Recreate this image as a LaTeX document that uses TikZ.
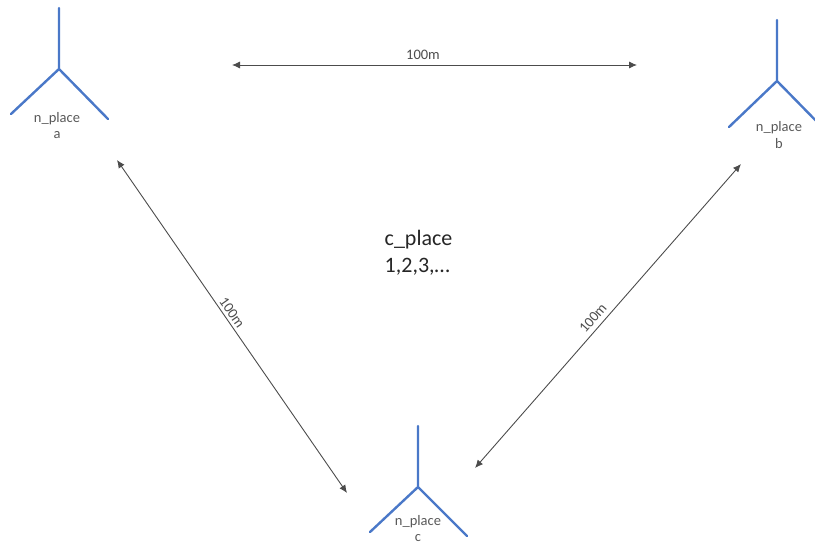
\documentclass[tikz,border=0pt]{standalone}
\usepackage{fontspec}
\setmainfont{Carlito}
\usetikzlibrary{arrows.meta}
\definecolor{antblue}{HTML}{4A78C8}
\tikzset{
  antenna/.style={draw=antblue,line width=2.4pt,line cap=round},
  dimline/.style={draw=black!70,line width=0.9pt,{Latex[length=8pt,width=7pt]}-{Latex[length=8pt,width=7pt]}},
  smalltext/.style={text=black!65,font=\fontsize{14.5}{16}\selectfont,inner sep=0pt,align=center},
  dimtext/.style={text=black!70,font=\fontsize{14.5}{16}\selectfont,inner sep=0pt},
  bigtext/.style={text=black!85,font=\fontsize{22}{27}\selectfont,inner sep=0pt,align=left}
}
\begin{document}
\begin{tikzpicture}[x=1pt,y=-1pt]
\useasboundingbox (0,0) rectangle (815,543);
\clip (0,0) rectangle (815,543);
% antenna a
\coordinate (atop) at (59,8);
\coordinate (aj) at (59,69);
\coordinate (al) at (11,114);
\coordinate (ar) at (108,119);
\draw[antenna] (atop) -- (aj) (al) -- (aj) -- (ar);
\node[smalltext] (alabel) at (57,118.5) {n\_place};
\node[smalltext] (aname) at (57,135) {a};
% antenna b
\coordinate (btop) at (777,20);
\coordinate (bj) at (777,81);
\coordinate (bl) at (729,127);
\coordinate (br) at (826,131);
\draw[antenna] (btop) -- (bj) (bl) -- (bj) -- (br);
\node[smalltext] (blabel) at (779,128) {n\_place};
\node[smalltext] (bname) at (779,144) {b};
% antenna c
\coordinate (ctop) at (418,426);
\coordinate (cj) at (418,487);
\coordinate (cl) at (370,532);
\coordinate (cr) at (467,536);
\draw[antenna] (ctop) -- (cj) (cl) -- (cj) -- (cr);
\node[smalltext] (clabel) at (418,521.5) {n\_place};
\node[smalltext] (cname) at (418,538.5) {c};
% distances
\coordinate (d1a) at (232,65);
\coordinate (d1b) at (637,65);
\coordinate (d2a) at (117,160);
\coordinate (d2b) at (347,493);
\coordinate (d3a) at (741,164);
\coordinate (d3b) at (475,468);
\draw[dimline] (d1a) -- (d1b);
\draw[dimline] (d2a) -- (d2b);
\draw[dimline] (d3a) -- (d3b);
\node[dimtext] (t1) at (423,54.5) {100m};
\node[dimtext,rotate=-55] (t2) at (232,313) {100m};
\node[dimtext,rotate=49] (t3) at (593,318) {100m};
\node[bigtext,anchor=west] (center) at (384.5,252.5) {c\_place\\1,2,3,\dots};
\end{tikzpicture}
\end{document}
